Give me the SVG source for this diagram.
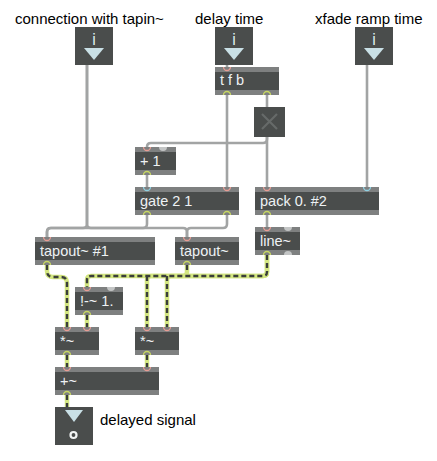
<svg xmlns="http://www.w3.org/2000/svg" width="437" height="461" viewBox="0 0 437 461">
<style>
.lbl{font-family:"Liberation Sans",Arial,sans-serif;font-size:15px;fill:#000}
.bar{fill:#7e8080}
.body{fill:#4a4d4c}
.txt{font-family:"Liberation Sans",Arial,sans-serif;font-size:14.5px;fill:#eef2f4}
.nb{fill:#4a4d4c}
.tri{fill:#c9e0e6}
.ni{font-family:"Liberation Sans",Arial,sans-serif;font-size:16px;fill:#dcecf2;text-anchor:middle}
.in{fill:none;stroke:#e79c94;stroke-width:1.3}
.inb{fill:none;stroke:#8fcfe0;stroke-width:1.3}
.out{fill:none;stroke:#c9d862;stroke-width:1.3}
.dot{fill:#c3c5c5}
.ctl{fill:none;stroke:#a2a4a4;stroke-width:2.6;stroke-linejoin:round}
.sigb{fill:none;stroke:#d3e681;stroke-width:4.5;stroke-linejoin:round}
.sigd{fill:none;stroke:#3a3e3b;stroke-width:2.4;stroke-dasharray:5 3;stroke-linejoin:round}
</style>
<rect width="437" height="461" fill="#ffffff"/>

<text class="lbl" x="15" y="24">connection with tapin~</text>
<text class="lbl" x="195" y="24">delay time</text>
<text class="lbl" x="315" y="24">xfade ramp time</text>
<text class="lbl" x="100" y="425">delayed signal</text>

<g id="connectors">
  <path class="ctl" d="M87 65 V224 Q87 228 83 228 H51 Q47 228 47 232 V237"/>
  <path class="ctl" d="M87 65 V224 Q87 228 91 228 H183 Q187 228 187 232 V237"/>
  <path class="ctl" d="M147 215 V224 Q147 228 143 228 H51 Q47 228 47 232 V237"/>
  <path class="ctl" d="M227 215 V224 Q227 228 223 228 H191 Q187 228 187 232 V237"/>
  <path class="ctl" d="M227 65 V67"/>
  <path class="ctl" d="M227 95 V187"/>
  <path class="ctl" d="M267 95 V107"/>
  <path class="ctl" d="M267 136 V187"/>
  <path class="ctl" d="M267 136 V139 Q267 143 263 143 H151 Q147 143 147 147"/>
  <path class="ctl" d="M147 175 V187"/>
  <path class="ctl" d="M367 65 V187"/>
  <path class="ctl" d="M267 215 V227"/>

  <path class="sigb" d="M267 255 V272 Q267 276 263 276 H91 Q87 276 87 280 V287"/>
  <path class="sigb" d="M267 255 V272 Q267 276 263 276 H171 Q167 276 167 280 V327"/>
  <path class="sigb" d="M187 265 V272 Q187 276 183 276 H151 Q147 276 147 280 V327"/>
  <path class="sigb" d="M47 265 V271 Q47 277 53 277 H61 Q67 277 67 283 V327"/>
  <path class="sigb" d="M87 315 V327"/>
  <path class="sigb" d="M67 355 V367"/>
  <path class="sigb" d="M147 355 V367"/>
  <path class="sigb" d="M67 395 V407"/>
  <path class="sigd" d="M267 255 V272 Q267 276 263 276 H91 Q87 276 87 280 V287"/>
  <path class="sigd" d="M167 276 Q167 276 167 280 V327"/>
  <path class="sigd" d="M187 265 V272"/>
  <path class="sigd" d="M147 276 V327"/>
  <path class="sigd" d="M47 265 V271 Q47 277 53 277 H61 Q67 277 67 283 V327"/>
  <path class="sigd" d="M87 315 V327"/>
  <path class="sigd" d="M67 355 V367"/>
  <path class="sigd" d="M147 355 V367"/>
  <path class="sigd" d="M67 395 V407"/>
</g>

<g id="num1">
  <rect class="nb" x="75" y="27" width="38" height="38"/>
  <text class="ni" x="94" y="45">i</text>
  <polygon class="tri" points="84,48 104,48 94,60"/>
</g>
<g id="num2">
  <rect class="nb" x="215" y="27" width="38" height="38"/>
  <text class="ni" x="234" y="45">i</text>
  <polygon class="tri" points="224,48 244,48 234,60"/>
</g>
<g id="num3">
  <rect class="nb" x="355" y="27" width="38" height="38"/>
  <text class="ni" x="374" y="45">i</text>
  <polygon class="tri" points="364,48 384,48 374,60"/>
</g>

<g id="tfb">
  <rect class="bar" x="215" y="67" width="64" height="28"/>
  <rect class="body" x="215" y="72" width="64" height="18"/>
  <text class="txt" x="220" y="85">t f b</text>
  <path class="in" d="M223.5 67 A3.5 3.5 0 0 0 230.5 67"/>
  <path class="out" d="M223.5 95 A3.5 3.5 0 0 1 230.5 95"/>
  <path class="out" d="M263.5 95 A3.5 3.5 0 0 1 270.5 95"/>
</g>

<g id="toggle">
  <rect class="nb" x="254" y="107" width="31" height="30"/>
  <path d="M262 114 L277 129 M277 114 L262 129" stroke="#666a69" stroke-width="2.2" fill="none"/>
</g>

<g id="plus1">
  <rect class="bar" x="135" y="147" width="41" height="28"/>
  <rect class="body" x="135" y="152" width="41" height="18"/>
  <text class="txt" x="140" y="166">+ 1</text>
  <path class="in" d="M143.5 147 A3.5 3.5 0 0 0 150.5 147"/>
  <path class="dot" d="M159 147 A4 4 0 0 0 167 147 Z"/>
  <path class="out" d="M143.5 175 A3.5 3.5 0 0 1 150.5 175"/>
</g>

<g id="gate">
  <rect class="bar" x="135" y="187" width="104" height="28"/>
  <rect class="body" x="135" y="192" width="104" height="18"/>
  <text class="txt" x="140" y="206">gate 2 1</text>
  <path class="inb" d="M143.5 187 A3.5 3.5 0 0 0 150.5 187"/>
  <path class="in" d="M223.5 187 A3.5 3.5 0 0 0 230.5 187"/>
  <path class="out" d="M143.5 215 A3.5 3.5 0 0 1 150.5 215"/>
  <path class="out" d="M223.5 215 A3.5 3.5 0 0 1 230.5 215"/>
</g>

<g id="pack">
  <rect class="bar" x="255" y="187" width="124" height="28"/>
  <rect class="body" x="255" y="192" width="124" height="18"/>
  <text class="txt" x="260" y="206">pack 0. #2</text>
  <path class="in" d="M263.5 187 A3.5 3.5 0 0 0 270.5 187"/>
  <path class="inb" d="M363.5 187 A3.5 3.5 0 0 0 370.5 187"/>
  <path class="out" d="M263.5 215 A3.5 3.5 0 0 1 270.5 215"/>
</g>

<g id="line">
  <rect class="bar" x="255" y="227" width="45" height="28"/>
  <rect class="body" x="255" y="232" width="45" height="18"/>
  <text class="txt" x="260" y="246">line~</text>
  <path class="in" d="M263.5 227 A3.5 3.5 0 0 0 270.5 227"/>
  <path class="dot" d="M284 227 A4 4 0 0 0 292 227 Z"/>
  <path class="out" d="M263.5 255 A3.5 3.5 0 0 1 270.5 255"/>
  <path class="dot" d="M284 255 A4 4 0 0 1 292 255 Z"/>
</g>

<g id="tapout1">
  <rect class="bar" x="35" y="237" width="120" height="28"/>
  <rect class="body" x="35" y="242" width="120" height="18"/>
  <text class="txt" x="40" y="256">tapout~ #1</text>
  <path class="in" d="M43.5 237 A3.5 3.5 0 0 0 50.5 237"/>
  <path class="out" d="M43.5 265 A3.5 3.5 0 0 1 50.5 265"/>
</g>

<g id="tapout2">
  <rect class="bar" x="175" y="237" width="64" height="28"/>
  <rect class="body" x="175" y="242" width="64" height="18"/>
  <text class="txt" x="180" y="256">tapout~</text>
  <path class="in" d="M183.5 237 A3.5 3.5 0 0 0 190.5 237"/>
  <path class="out" d="M183.5 265 A3.5 3.5 0 0 1 190.5 265"/>
</g>

<g id="rminus">
  <rect class="bar" x="75" y="287" width="48" height="28"/>
  <rect class="body" x="75" y="292" width="48" height="18"/>
  <text class="txt" x="80" y="306">!-~ 1.</text>
  <path class="in" d="M83.5 287 A3.5 3.5 0 0 0 90.5 287"/>
  <path class="dot" d="M107 287 A4 4 0 0 0 115 287 Z"/>
  <path class="out" d="M83.5 315 A3.5 3.5 0 0 1 90.5 315"/>
</g>

<g id="mul1">
  <rect class="bar" x="55" y="327" width="44" height="28"/>
  <rect class="body" x="55" y="332" width="44" height="18"/>
  <text class="txt" x="60" y="346">*~</text>
  <path class="in" d="M63.5 327 A3.5 3.5 0 0 0 70.5 327"/>
  <path class="in" d="M83.5 327 A3.5 3.5 0 0 0 90.5 327"/>
  <path class="out" d="M63.5 355 A3.5 3.5 0 0 1 70.5 355"/>
</g>

<g id="mul2">
  <rect class="bar" x="135" y="327" width="44" height="28"/>
  <rect class="body" x="135" y="332" width="44" height="18"/>
  <text class="txt" x="140" y="346">*~</text>
  <path class="in" d="M143.5 327 A3.5 3.5 0 0 0 150.5 327"/>
  <path class="in" d="M163.5 327 A3.5 3.5 0 0 0 170.5 327"/>
  <path class="out" d="M143.5 355 A3.5 3.5 0 0 1 150.5 355"/>
</g>

<g id="add">
  <rect class="bar" x="55" y="367" width="104" height="28"/>
  <rect class="body" x="55" y="372" width="104" height="18"/>
  <text class="txt" x="60" y="386">+~</text>
  <path class="in" d="M63.5 367 A3.5 3.5 0 0 0 70.5 367"/>
  <path class="in" d="M143.5 367 A3.5 3.5 0 0 0 150.5 367"/>
  <path class="out" d="M63.5 395 A3.5 3.5 0 0 1 70.5 395"/>
</g>

<g id="outbox">
  <rect class="nb" x="55" y="407" width="38" height="38"/>
  <polygon class="tri" points="65,410 83,410 74,422"/>
  <circle cx="73.5" cy="435" r="3" fill="none" stroke="#f2f4f4" stroke-width="2.2"/>
</g>
</svg>
